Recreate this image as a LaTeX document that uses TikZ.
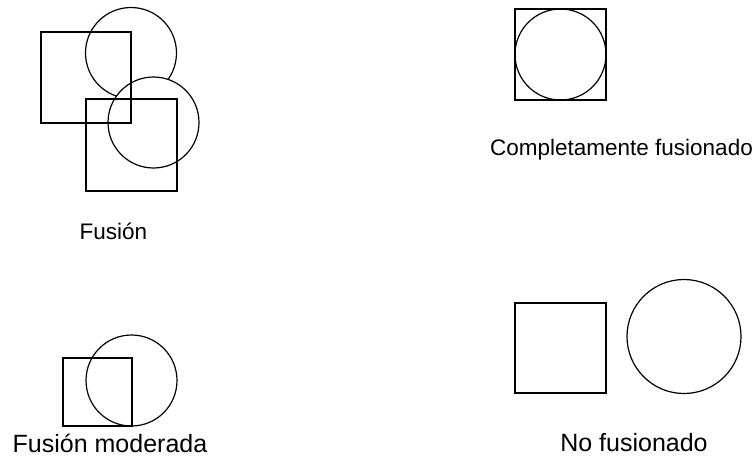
\documentclass[tikz,border=0pt]{standalone}
\usepackage{fontspec}
\setmainfont{Liberation Sans}
\usepackage{tikz}

\begin{document}
\begin{tikzpicture}[x=1pt,y=-1pt,
  outline/.style={draw=black,line width=1.2pt},
  smalllabel/.style={anchor=base,inner sep=0pt,font=\fontsize{22.5}{27}\selectfont},
  biglabel/.style={anchor=base,inner sep=0pt,font=\fontsize{25}{30}\selectfont}]
\useasboundingbox (0,0) rectangle (754,458);
% Fusion: two square/circle pairs, the lower circle hides the upper one
\draw[outline] (131,53) circle (45.5);
\filldraw[outline,fill=white] (153.5,122.5) circle (45.5);
\draw[outline] (41,32) rectangle (131,123);
\draw[outline] (86,99) rectangle (177,191);
\node[smalllabel] (fusion) at (113.5,239) {Fusión};
% Completely merged: circle inside the square
\draw[outline] (515,9) rectangle (606,100);
\draw[outline] (560.5,54.5) circle (45.5);
\node[smalllabel] (full) at (621.5,155.5) {Completamente fusionado};
% Moderate merge
\draw[outline] (63,358) rectangle (132,426);
\draw[outline] (131.5,380.5) circle (45.5);
\node[biglabel] (moderate) at (110,452) {Fusión moderada};
% Not merged: square and circle side by side
\draw[outline] (515,303) rectangle (606,393);
\draw[outline] (684,336.5) circle (57);
\node[biglabel] (none) at (634,451) {No fusionado};
\end{tikzpicture}
\end{document}
